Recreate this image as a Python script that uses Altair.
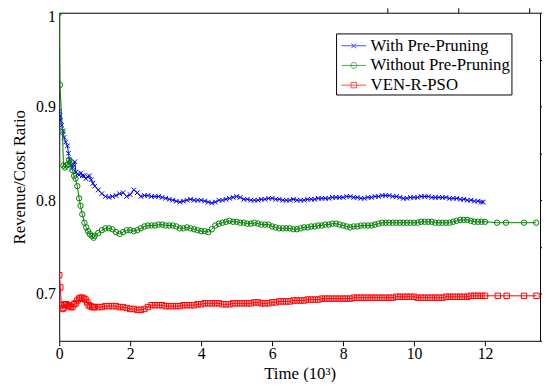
import altair as alt
import pandas as pd

FONT = "Liberation Serif"
series_names = ["With Pre-Pruning", "Without Pre-Pruning", "VEN-R-PSO"]
series_colors = ["#0000ff", "#008000", "#ff0000"]

x_ticks = [0, 2, 4, 6, 8, 10, 12]
y_ticks = [0.65, 0.7, 0.75, 0.8, 0.85, 0.9, 0.95, 1.0]

# common sampling grid (time, 10^3) for the dense part of the curves
grid = [1.0, 1.1, 1.2, 1.3, 1.4, 1.5, 1.6, 1.7, 1.8, 1.9,
        2.0, 2.1, 2.2, 2.3, 2.4, 2.5, 2.6, 2.7, 2.8, 2.9,
        3.0, 3.1, 3.2, 3.3, 3.4, 3.5, 3.6, 3.7, 3.8, 3.9,
        4.0, 4.1, 4.2, 4.3, 4.4, 4.5, 4.6, 4.7, 4.8, 4.9,
        5.0, 5.1, 5.2, 5.3, 5.4, 5.5, 5.6, 5.7, 5.8, 5.9,
        6.0, 6.1, 6.2, 6.3, 6.4, 6.5, 6.6, 6.7, 6.8, 6.9,
        7.0, 7.1, 7.2, 7.3, 7.4, 7.5, 7.6, 7.7, 7.8, 7.9,
        8.0, 8.1, 8.2, 8.3, 8.4, 8.5, 8.6, 8.7, 8.8, 8.9,
        9.0, 9.1, 9.2, 9.3, 9.4, 9.5, 9.6, 9.7, 9.8, 9.9,
        10.0, 10.1, 10.2, 10.3, 10.4, 10.5, 10.6, 10.7, 10.8, 10.9,
        11.0, 11.1, 11.2, 11.3, 11.4, 11.5, 11.6, 11.7, 11.8, 11.9,
        12.0]

# ---- With Pre-Pruning (blue) ----
with_early_x = [0, 0.02, 0.04, 0.07, 0.10, 0.14, 0.18, 0.23, 0.26, 0.29, 0.33, 0.36, 0.40,
                0.44, 0.47, 0.52, 0.56, 0.61, 0.65, 0.70, 0.75, 0.80, 0.85, 0.90, 0.95]
with_early_y = [0.895, 0.890, 0.885, 0.880, 0.874, 0.867, 0.862, 0.858, 0.850, 0.843, 0.837, 0.834, 0.838,
                0.841, 0.830, 0.828, 0.827, 0.829, 0.826, 0.826, 0.823, 0.825, 0.826, 0.822, 0.818]
with_grid_y = [0.815, 0.811, 0.807, 0.804, 0.803, 0.804, 0.805, 0.807, 0.808, 0.804,
               0.806, 0.811, 0.808, 0.804, 0.805, 0.805, 0.804, 0.804, 0.804, 0.803,
               0.802, 0.801, 0.800, 0.799, 0.798, 0.799, 0.800, 0.801, 0.800, 0.800,
               0.800, 0.799, 0.798, 0.797, 0.798, 0.800, 0.800, 0.801, 0.802, 0.803,
               0.804, 0.803, 0.801, 0.801, 0.800, 0.800, 0.800, 0.801, 0.801, 0.802,
               0.802, 0.801, 0.801, 0.800, 0.800, 0.800, 0.801, 0.800, 0.800, 0.800,
               0.801, 0.801, 0.801, 0.802, 0.802, 0.802, 0.802, 0.803, 0.803, 0.803,
               0.803, 0.804, 0.804, 0.803, 0.803, 0.802, 0.802, 0.803, 0.803, 0.804,
               0.804, 0.805, 0.805, 0.805, 0.804, 0.804, 0.803, 0.802, 0.802, 0.803,
               0.803, 0.803, 0.804, 0.804, 0.804, 0.803, 0.803, 0.803, 0.803, 0.803,
               0.802, 0.802, 0.802, 0.801, 0.801, 0.800, 0.800, 0.799, 0.799, 0.798]
with_tail_x = [11.95]
with_tail_y = [0.798]

# ---- Without Pre-Pruning (green) ----
without_early_x = [0, 0.02, 0.09, 0.12, 0.16, 0.20, 0.24, 0.28, 0.32, 0.37, 0.42, 0.46, 0.51,
                   0.56, 0.60, 0.65, 0.71, 0.76, 0.81, 0.86, 0.92, 0.97]
without_early_y = [1.000, 0.923, 0.873, 0.837, 0.835, 0.837, 0.838, 0.843, 0.841, 0.832, 0.826, 0.823, 0.815,
                   0.802, 0.794, 0.785, 0.776, 0.771, 0.767, 0.764, 0.762, 0.760]
without_grid_y = [0.762, 0.765, 0.768, 0.770, 0.770, 0.769, 0.766, 0.764, 0.766, 0.768,
                  0.768, 0.767, 0.768, 0.770, 0.772, 0.773, 0.773, 0.773, 0.774, 0.774,
                  0.773, 0.773, 0.773, 0.772, 0.770, 0.770, 0.771, 0.770, 0.769, 0.768,
                  0.767, 0.767, 0.766, 0.769, 0.773, 0.775, 0.776, 0.777, 0.778, 0.777,
                  0.777, 0.776, 0.776, 0.775, 0.775, 0.776, 0.775, 0.774, 0.774, 0.774,
                  0.772, 0.771, 0.770, 0.770, 0.770, 0.770, 0.769, 0.769, 0.770, 0.771,
                  0.771, 0.772, 0.772, 0.773, 0.773, 0.774, 0.774, 0.775, 0.775, 0.774,
                  0.773, 0.772, 0.771, 0.772, 0.772, 0.773, 0.773, 0.773, 0.773, 0.774,
                  0.775, 0.776, 0.776, 0.776, 0.776, 0.776, 0.776, 0.776, 0.776, 0.776,
                  0.776, 0.776, 0.777, 0.777, 0.777, 0.777, 0.776, 0.776, 0.776, 0.776,
                  0.776, 0.777, 0.778, 0.779, 0.779, 0.779, 0.778, 0.777, 0.777, 0.777,
                  0.777]
without_tail_x = [12.34, 12.59, 13.10, 13.44]
without_tail_y = [0.776, 0.776, 0.776, 0.776]

# ---- VEN-R-PSO (red) ----
ven_early_x = [0, 0.03, 0.06, 0.09, 0.12, 0.16, 0.20, 0.24, 0.28, 0.32, 0.37, 0.42, 0.46,
               0.51, 0.56, 0.60, 0.65, 0.70, 0.74, 0.79, 0.83, 0.88, 0.93, 0.97]
ven_early_y = [0.720, 0.707, 0.688, 0.684, 0.685, 0.689, 0.689, 0.688, 0.687, 0.686, 0.686, 0.689, 0.690,
               0.693, 0.695, 0.696, 0.696, 0.695, 0.694, 0.691, 0.688, 0.687, 0.686, 0.686]
ven_grid_y = [0.686, 0.686, 0.686, 0.687, 0.687, 0.687, 0.687, 0.686, 0.686, 0.685,
              0.684, 0.684, 0.683, 0.683, 0.684, 0.686, 0.688, 0.688, 0.688, 0.688,
              0.687, 0.687, 0.687, 0.687, 0.687, 0.688, 0.688, 0.688, 0.688, 0.689,
              0.689, 0.690, 0.690, 0.690, 0.690, 0.690, 0.689, 0.689, 0.689, 0.690,
              0.690, 0.690, 0.690, 0.690, 0.690, 0.691, 0.691, 0.690, 0.690, 0.690,
              0.691, 0.691, 0.692, 0.692, 0.692, 0.692, 0.693, 0.693, 0.693, 0.693,
              0.694, 0.694, 0.694, 0.694, 0.695, 0.695, 0.695, 0.695, 0.695, 0.695,
              0.695, 0.695, 0.695, 0.696, 0.696, 0.696, 0.696, 0.696, 0.696, 0.696,
              0.696, 0.696, 0.696, 0.696, 0.696, 0.697, 0.697, 0.697, 0.697, 0.697,
              0.697, 0.696, 0.696, 0.696, 0.696, 0.696, 0.696, 0.696, 0.696, 0.697,
              0.697, 0.697, 0.697, 0.697, 0.697, 0.697, 0.698, 0.698, 0.698, 0.698,
              0.698]
ven_tail_x = [12.36, 12.61, 13.10, 13.45]
ven_tail_y = [0.698, 0.698, 0.698, 0.698]


def make_df(name, ex, ey, gx, gy, tx, ty):
    xs = list(ex) + list(gx) + list(tx)
    ys = list(ey) + list(gy) + list(ty)
    return pd.DataFrame({"t": xs, "v": ys, "series": name})


df_with = make_df(series_names[0], with_early_x, with_early_y, grid[:-1], with_grid_y, with_tail_x, with_tail_y)
df_without = make_df(series_names[1], without_early_x, without_early_y, grid, without_grid_y, without_tail_x, without_tail_y)
df_ven = make_df(series_names[2], ven_early_x, ven_early_y, grid, ven_grid_y, ven_tail_x, ven_tail_y)

W, H = 488, 333
x_scale = alt.Scale(domain=[0, 13.55], nice=False, zero=False)
y_scale = alt.Scale(domain=[0.65, 1.0], nice=False, zero=False)

base_axis = dict(domain=False, grid=False, tickColor="black", tickWidth=1,
                 labelFont=FONT, labelFontSize=16, labelColor="black",
                 labelFlush=False, labelOverlap=False, titleFont=FONT, titleFontSize=17,
                 titleFontWeight="normal", titleColor="black")
tick_axis = dict(base_axis, ticks=True, tickSize=5, labels=False, title=None)

# label axes (no ticks)
x_labels = alt.Axis(orient="bottom", values=x_ticks, ticks=False, labelPadding=5,
                    title="Time (10³)", titlePadding=4, **base_axis)
y_labels = alt.Axis(orient="left", values=y_ticks, ticks=False, labelPadding=4,
                    labelExpr="abs(datum.value*10 - round(datum.value*10)) < 0.001 ? format(datum.value, '~g') : ''",
                    labelOffset={"condition": {"test": "datum.value > 0.99", "value": 4}, "value": 0},
                    title="Revenue/Cost Ratio", titlePadding=7, **base_axis)
# inward tick axes (placed on the opposite edge so the ticks point inside the frame)
x_ticks_bottom = alt.Axis(orient="top", position=H, values=x_ticks, **tick_axis)
x_ticks_top = alt.Axis(orient="bottom", position=0, values=x_ticks, **tick_axis)
y_ticks_left = alt.Axis(orient="right", position=0, values=y_ticks, **tick_axis)
y_ticks_right = alt.Axis(orient="left", position=W, values=y_ticks, **tick_axis)

x_path = "M-1,-1L1,1M-1,1L1,-1"


def series_layers(df, color, shape, size, axes=(None, None, None, None)):
    line = alt.Chart(df).mark_line(color=color, strokeWidth=1, clip=True).encode(
        x=alt.X("t:Q", scale=x_scale, axis=axes[0]),
        y=alt.Y("v:Q", scale=y_scale, axis=axes[1]),
        order="t:Q",
    )
    pts = alt.Chart(df).mark_point(shape=shape, filled=False, color=color, size=size,
                                   strokeWidth=1, opacity=1, clip=True).encode(
        x=alt.X("t:Q", scale=x_scale, axis=axes[2]),
        y=alt.Y("v:Q", scale=y_scale, axis=axes[3]),
    )
    return [line, pts]


layers = []
layers += series_layers(df_with, series_colors[0], x_path, 22,
                        axes=(x_labels, y_labels, x_ticks_bottom, y_ticks_left))
layers += series_layers(df_without, series_colors[1], "circle", 30,
                        axes=(x_ticks_top, y_ticks_right, None, None))
layers += series_layers(df_ven, series_colors[2], "square", 30)

legend_paths = [
    "M-0.64,0L1.64,0M0.27,-0.23L0.73,0.23M0.27,0.23L0.73,-0.23",
    "M-0.64,0L1.64,0M0.23,0A0.27,0.27 0 1,1 0.77,0A0.27,0.27 0 1,1 0.23,0",
    "M-0.64,0L1.64,0M0.25,-0.25L0.75,-0.25L0.75,0.25L0.25,0.25Z",
]
legend_df = pd.DataFrame({"series": series_names, "t": [0, 0, 0], "v": [0.65, 0.65, 0.65]})
legend_cfg = dict(title=None, orient="none", legendX=281, legendY=21, strokeColor="black",
                  fillColor="white", padding=1, symbolSize=484, symbolStrokeWidth=1,
                  labelFont=FONT, labelFontSize=17, labelColor="black", labelOffset=11,
                  rowPadding=0, labelLimit=400, cornerRadius=0)
legend_layer = alt.Chart(legend_df).mark_point(filled=False, strokeWidth=1).encode(
    x=alt.X("t:Q", scale=x_scale, axis=None),
    y=alt.Y("v:Q", scale=y_scale, axis=None),
    color=alt.Color("series:N", scale=alt.Scale(domain=series_names, range=series_colors),
                    legend=alt.Legend(**legend_cfg)),
    shape=alt.Shape("series:N", scale=alt.Scale(domain=series_names, range=legend_paths),
                    legend=alt.Legend(**legend_cfg)),
).transform_filter("false")
layers.append(legend_layer)

chart = alt.layer(*layers).resolve_axis(x="independent", y="independent").properties(
    width=W, height=H,
    autosize=alt.AutoSizeParams(type="none"),
    padding={"left": 52, "top": 2, "right": 2, "bottom": 39},
    background="white",
).configure_view(stroke="black", strokeWidth=1)

chart.save("out.html", embed_options={"renderer": "svg", "actions": False})
